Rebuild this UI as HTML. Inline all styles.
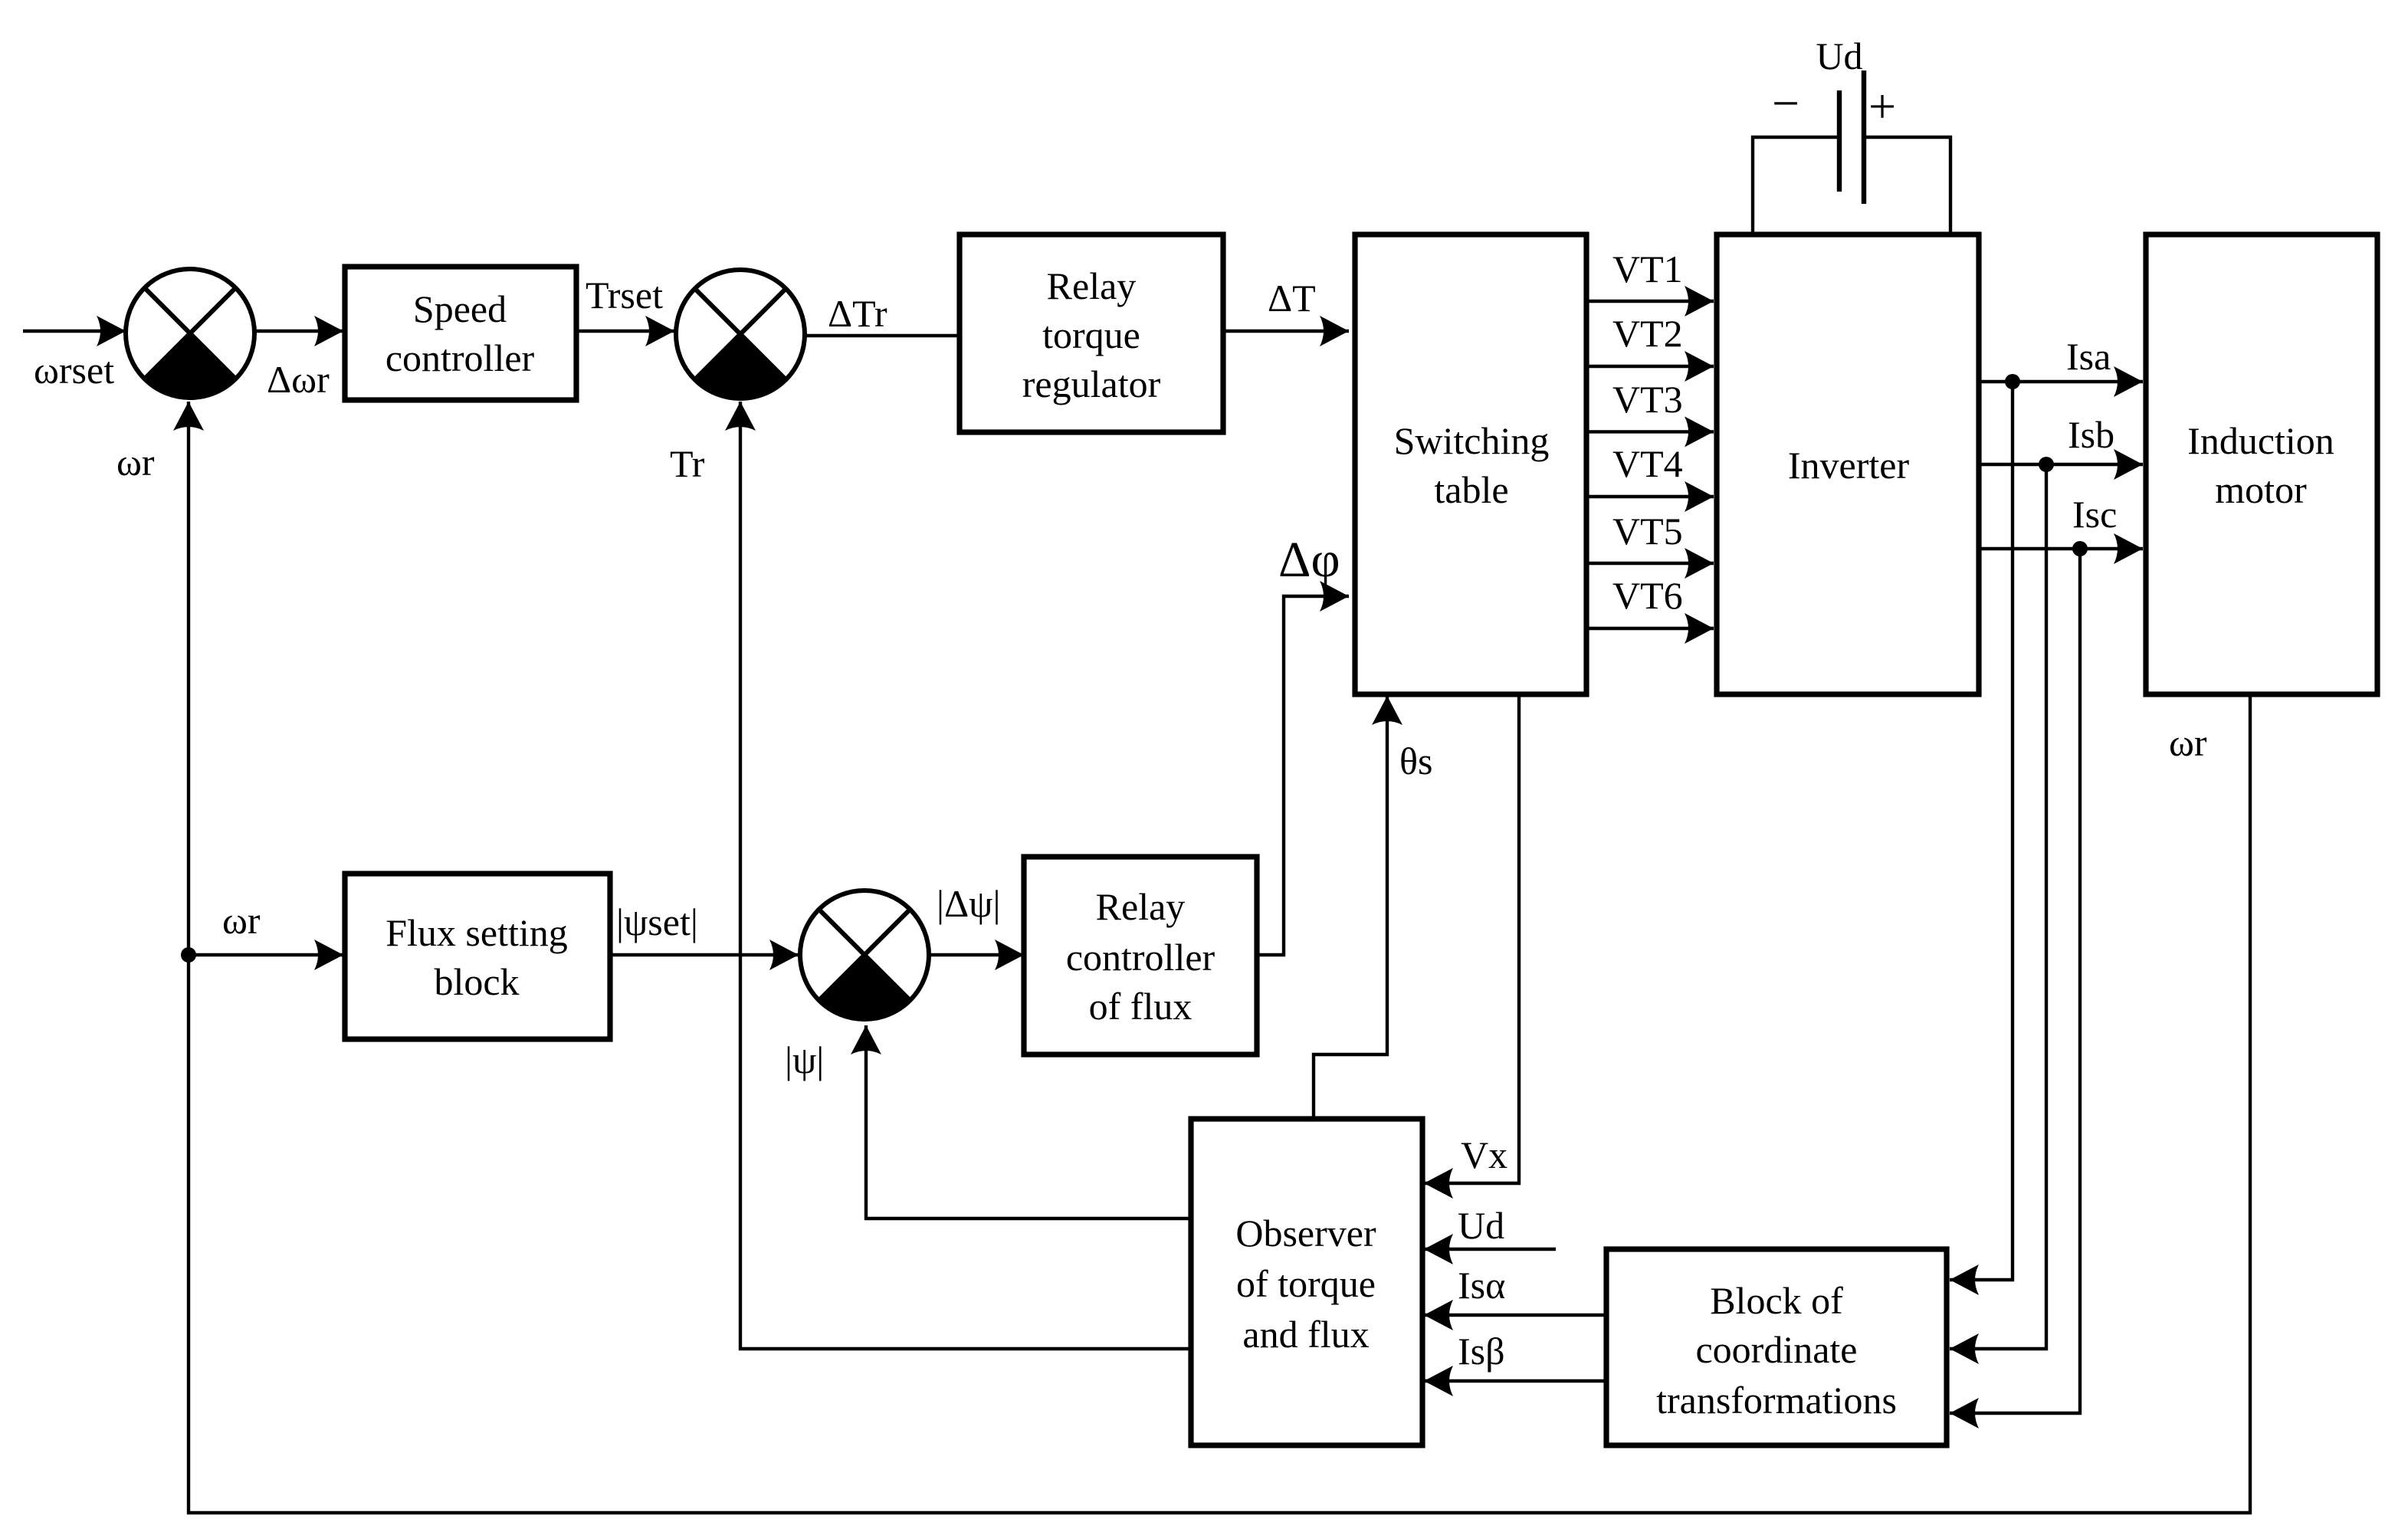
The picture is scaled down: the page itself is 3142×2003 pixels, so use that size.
<!DOCTYPE html>
<html><head><meta charset="utf-8"><style>
html,body{margin:0;padding:0;background:#fff}
svg{display:block}
text{font-family:"Liberation Serif","DejaVu Serif",serif;font-size:25px;fill:#000}
.c{text-anchor:middle}
</style></head><body>
<svg width="3142" height="2003" viewBox="0 0 1571 1001.5" xmlns="http://www.w3.org/2000/svg">
<defs>
<marker id="a" markerUnits="userSpaceOnUse" markerWidth="22" markerHeight="22" refX="19" refY="10" orient="auto">
<path d="M0,0 L19,10 L0,20 Q5,10 0,0Z" fill="#000"/>
</marker>
<g id="sum">
<circle r="42" fill="#fff" stroke="#000" stroke-width="3"/>
<path d="M0,0 L29.7,29.7 A42,42 0 0 1 -29.7,29.7 Z" fill="#000"/>
<path d="M-29.7,-29.7 L29.7,29.7 M29.7,-29.7 L-29.7,29.7" stroke="#000" stroke-width="3"/>
</g>
</defs>
<g fill="none" stroke="#000" stroke-width="2.2">
<path d="M15,216 H82" marker-end="url(#a)"/>
<path d="M167,216 H224" marker-end="url(#a)"/>
<path d="M376,216 H440" marker-end="url(#a)"/>
<path d="M526,219 H626"/>
<path d="M798,216 H880" marker-end="url(#a)"/>
<path d="M1036,196.5 H1118" marker-end="url(#a)"/>
<path d="M1036,239 H1118" marker-end="url(#a)"/>
<path d="M1036,281.7 H1118" marker-end="url(#a)"/>
<path d="M1036,324 H1118" marker-end="url(#a)"/>
<path d="M1036,367.5 H1118" marker-end="url(#a)"/>
<path d="M1036,410 H1118" marker-end="url(#a)"/>
<path d="M1143.5,153 V89.5 H1200 M1216,89.5 H1272.5 V153"/>
<path d="M1292,249 H1398" marker-end="url(#a)"/>
<path d="M1292,303 H1398" marker-end="url(#a)"/>
<path d="M1292,358 H1398" marker-end="url(#a)"/>
<path d="M1313,249 V835 H1272" marker-end="url(#a)"/>
<path d="M1335,303 V880 H1272" marker-end="url(#a)"/>
<path d="M1357,358 V922 H1272" marker-end="url(#a)"/>
<path d="M1048,858 H929" marker-end="url(#a)"/>
<path d="M1048,901 H929" marker-end="url(#a)"/>
<path d="M1015,815 H929" marker-end="url(#a)"/>
<path d="M991,453 V772 H929" marker-end="url(#a)"/>
<path d="M857,730 V688 H905 V454" marker-end="url(#a)"/>
<path d="M776,795 H565 V669" marker-end="url(#a)"/>
<path d="M776,880 H483 V262" marker-end="url(#a)"/>
<path d="M123,623 H224" marker-end="url(#a)"/>
<path d="M398,623 H521" marker-end="url(#a)"/>
<path d="M607,623 H668" marker-end="url(#a)"/>
<path d="M820,623 H837.5 V389 H880" marker-end="url(#a)"/>
<path d="M1468,453 V987 H123 V262" marker-end="url(#a)"/>
</g>
<g fill="none" stroke="#000" stroke-width="3.6">
<rect x="225" y="174" width="151" height="87"/>
<rect x="626" y="153" width="172" height="129"/>
<rect x="884" y="153" width="151" height="300"/>
<rect x="1120" y="153" width="171" height="300"/>
<rect x="1400" y="153" width="151" height="300"/>
<rect x="225" y="570" width="173" height="108"/>
<rect x="668" y="559" width="152" height="129"/>
<rect x="777" y="730" width="151" height="213"/>
<rect x="1048" y="815" width="222" height="128"/>
</g>
<path d="M1200,59 V125 M1216,46 V133" stroke="#000" stroke-width="3.2"/>
<use href="#sum" x="124" y="217.5"/>
<use href="#sum" x="483" y="218"/>
<use href="#sum" x="564" y="623"/>
<g fill="#000">
<circle cx="1313" cy="249" r="5"/>
<circle cx="1335" cy="303" r="5"/>
<circle cx="1357" cy="358" r="5"/>
<circle cx="123" cy="623" r="5"/>
</g>
<text x="1200" y="45" class="c">Ud</text>
<text x="1156" y="78" style="font-size:32px">−</text>
<text x="1219" y="80" style="font-size:32px">+</text>
<text x="22" y="250">ωrset</text>
<text x="174" y="256">Δωr</text>
<text x="300" y="210" class="c">Speed</text>
<text x="300" y="242" class="c">controller</text>
<text x="382" y="201">Trset</text>
<text x="540" y="213">ΔTr</text>
<text x="712" y="195" class="c">Relay</text>
<text x="712" y="227" class="c">torque</text>
<text x="712" y="259" class="c">regulator</text>
<text x="827" y="203">ΔT</text>
<text x="960" y="296" class="c">Switching</text>
<text x="960" y="328" class="c">table</text>
<text x="1052" y="184">VT1</text>
<text x="1052" y="226">VT2</text>
<text x="1052" y="269">VT3</text>
<text x="1052" y="311">VT4</text>
<text x="1052" y="355">VT5</text>
<text x="1052" y="397">VT6</text>
<text x="1206" y="312" class="c">Inverter</text>
<text x="1475" y="296" class="c">Induction</text>
<text x="1475" y="328" class="c">motor</text>
<text x="1348" y="241">Isa</text>
<text x="1349" y="292">Isb</text>
<text x="1352" y="344">Isc</text>
<text x="76" y="310">ωr</text>
<text x="437" y="311">Tr</text>
<text x="834" y="376" style="font-size:33px">Δφ</text>
<text x="913" y="505">θs</text>
<text x="1415" y="493">ωr</text>
<text x="145" y="609">ωr</text>
<text x="311" y="617" class="c">Flux setting</text>
<text x="311" y="649" class="c">block</text>
<text x="402" y="610">|ψset|</text>
<text x="611" y="598">|Δψ|</text>
<text x="744" y="600" class="c">Relay</text>
<text x="744" y="633" class="c">controller</text>
<text x="744" y="665" class="c">of flux</text>
<text x="512" y="700">|ψ|</text>
<text x="852" y="813" class="c">Observer</text>
<text x="852" y="846" class="c">of torque</text>
<text x="852" y="879" class="c">and flux</text>
<text x="953" y="762">Vx</text>
<text x="951" y="808">Ud</text>
<text x="951" y="847">Isα</text>
<text x="951" y="890">Isβ</text>
<text x="1159" y="857" class="c">Block of</text>
<text x="1159" y="889" class="c">coordinate</text>
<text x="1159" y="922" class="c">transformations</text>
</svg>
</body></html>
